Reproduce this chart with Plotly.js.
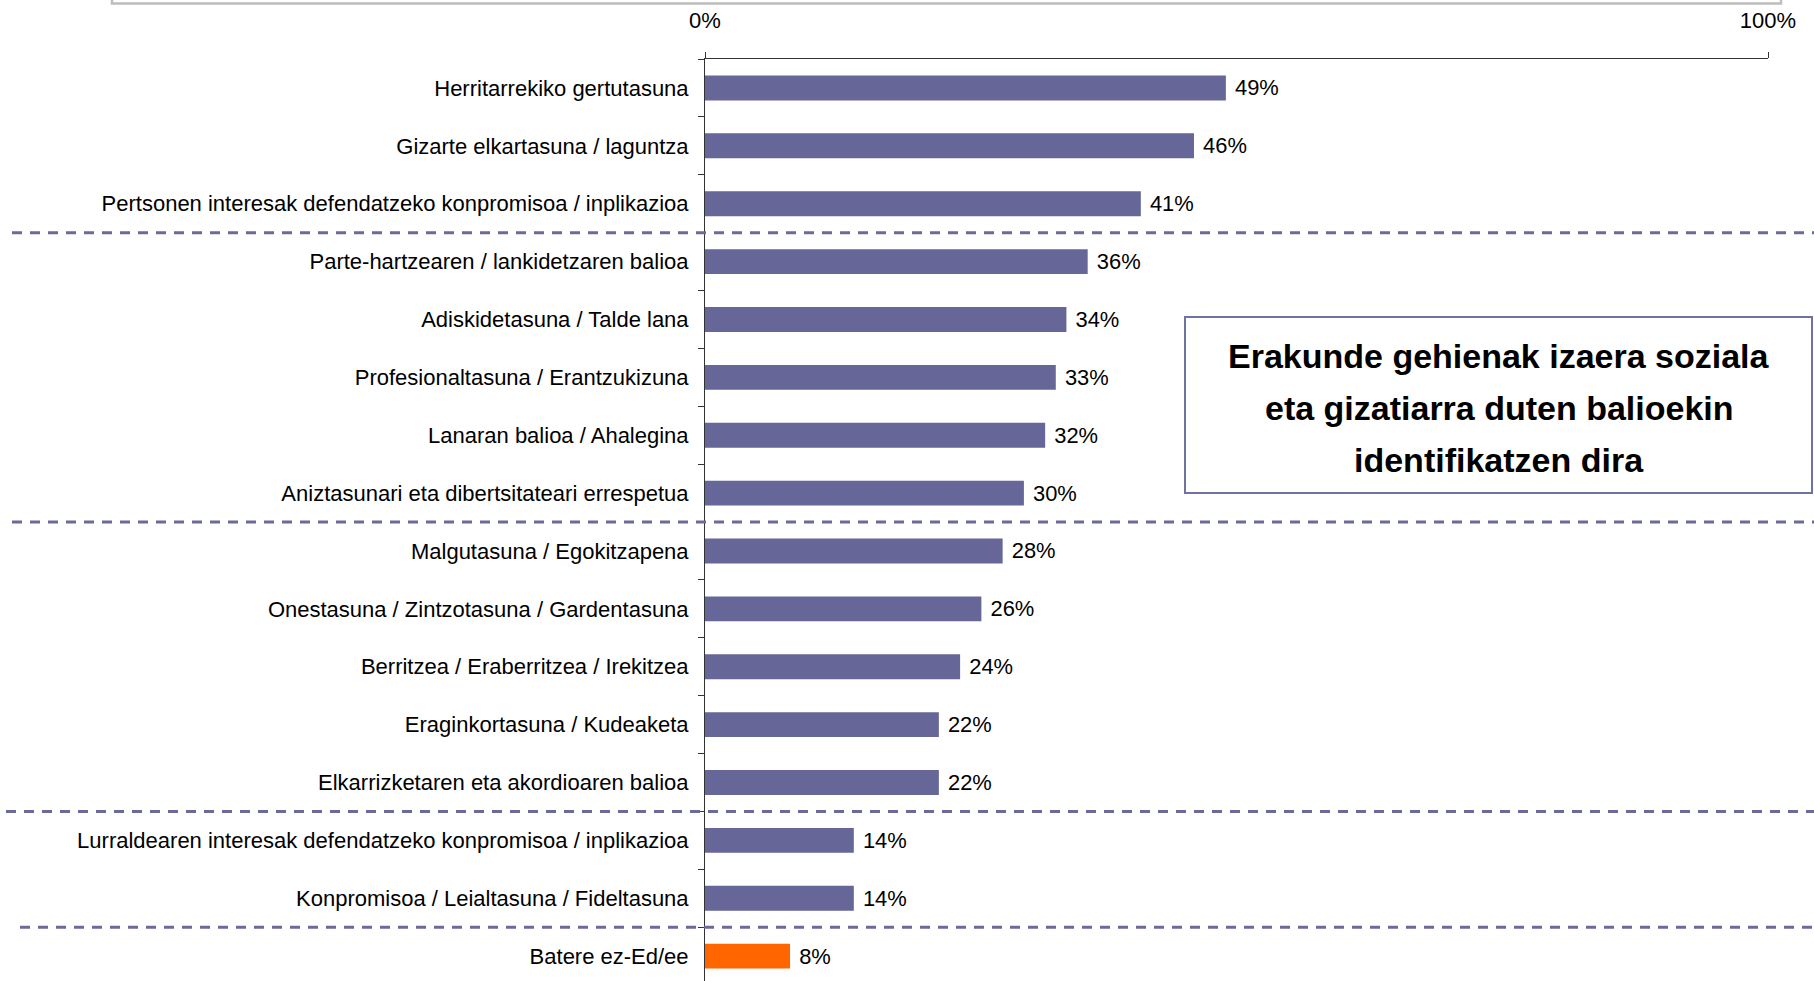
<!DOCTYPE html>
<html>
<head>
<meta charset="utf-8">
<script src="https://cdn.plot.ly/plotly-3.0.1.min.js"></script>
<style>html,body{margin:0;padding:0;background:#fff;}#chart{width:1814px;height:981px;}</style>
</head>
<body>
<div id="chart"></div>
<script>
const categories = [
  "Herritarrekiko gertutasuna",
  "Gizarte elkartasuna / laguntza",
  "Pertsonen interesak defendatzeko konpromisoa / inplikazioa",
  "Parte-hartzearen / lankidetzaren balioa",
  "Adiskidetasuna / Talde lana",
  "Profesionaltasuna / Erantzukizuna",
  "Lanaran balioa / Ahalegina",
  "Aniztasunari eta dibertsitateari errespetua",
  "Malgutasuna / Egokitzapena",
  "Onestasuna / Zintzotasuna / Gardentasuna",
  "Berritzea / Eraberritzea / Irekitzea",
  "Eraginkortasuna / Kudeaketa",
  "Elkarrizketaren eta akordioaren balioa",
  "Lurraldearen interesak defendatzeko konpromisoa / inplikazioa",
  "Konpromisoa / Leialtasuna / Fideltasuna",
  "Batere ez-Ed/ee"
];
const values = [49, 46, 41, 36, 34, 33, 32, 30, 28, 26, 24, 22, 22, 14, 14, 8];
const highlightCategory = "Batere ez-Ed/ee";
const separatorsAfter = [2, 7, 12, 14];
const xTickVals = [0, 100];
const xTickText = ["0%", "100%"];
const noteLines = [
  "Erakunde gehienak izaera soziala",
  "eta gizatiarra duten balioekin",
  "identifikatzen dira"
];

const W = 1814, H = 981;
const M = {l: 705, r: 46, t: 59, b: 0};
const PW = W - M.l - M.r, PH = H - M.t - M.b;
const px = x => (x - M.l) / PW;
const py = y => 1 - (y - M.t) / PH;

const FONT = "'Liberation Sans', Arial, sans-serif";
const BAR = "#666699";
const ORANGE = "#FF6600";

const trace = {
  type: "bar",
  orientation: "h",
  y: categories,
  x: values,
  marker: {color: categories.map(c => c === highlightCategory ? ORANGE : BAR), line: {width: 0}},
  texttemplate: "\u00a0%{x}%",
  textposition: "outside",
  textfont: {family: FONT, size: 22, color: "#000"},
  cliponaxis: false,
  hoverinfo: "skip"
};

const sepStarts = [12, 12, 6, 20];
const shapes = separatorsAfter.map((idx, i) => ({
  type: "line", xref: "paper", yref: "y",
  x0: px(sepStarts[i]), x1: px(W + 5), y0: idx + 0.5, y1: idx + 0.5,
  line: {color: "#6B6B9B", width: 3, dash: "10px,8px"}
}));
// gray frame remnant at top
shapes.push({
  type: "rect", xref: "paper", yref: "paper",
  x0: px(112), x1: px(1781), y0: py(3.5), y1: py(-40),
  line: {color: "#BDBDBD", width: 2.5}, fillcolor: "rgba(0,0,0,0)"
});
// note box
shapes.push({
  type: "rect", xref: "paper", yref: "paper",
  x0: px(1185), x1: px(1812), y0: py(493), y1: py(317),
  line: {color: "#7272A2", width: 2}, fillcolor: "#FFFFFF"
});

const lineYs = [356, 408, 460];
const annotations = noteLines.map((t, i) => ({
  xref: "paper", yref: "paper", x: px(1499), y: py(lineYs[i]),
  xanchor: "center", yanchor: "middle", showarrow: false,
  text: "<b>" + t + "</b>",
  font: {family: FONT, size: 34, color: "#000"}
}));

const layout = {
  width: W, height: H,
  margin: {l: M.l, r: M.r, t: M.t, b: M.b, pad: 0},
  paper_bgcolor: "#fff", plot_bgcolor: "#fff",
  showlegend: false,
  bargap: 0.57,
  font: {family: FONT, size: 22, color: "#000"},
  xaxis: {
    side: "top", range: [0, 100], autorange: false,
    tickmode: "array", tickvals: xTickVals, ticktext: xTickText,
    ticks: "outside", ticklen: 6, tickcolor: "#333", tickwidth: 1,
    showline: true, linecolor: "#333", linewidth: 1,
    showgrid: false, zeroline: false,
    tickfont: {family: FONT, size: 22, color: "#000"},
    ticklabelstandoff: 15,
    fixedrange: true
  },
  yaxis: {
    type: "category", range: [15.43, -0.5], autorange: false,
    showline: true, linecolor: "#333", linewidth: 1,
    ticks: "outside", tickson: "boundaries", ticklen: 6, tickcolor: "#333", tickwidth: 1,
    showgrid: false, zeroline: false,
    tickfont: {family: FONT, size: 22, color: "#000"},
    ticklabelstandoff: 11,
    fixedrange: true
  },
  shapes: shapes,
  annotations: annotations
};

Plotly.newPlot("chart", [trace], layout, {displayModeBar: false, staticPlot: true});
</script>
</body>
</html>
